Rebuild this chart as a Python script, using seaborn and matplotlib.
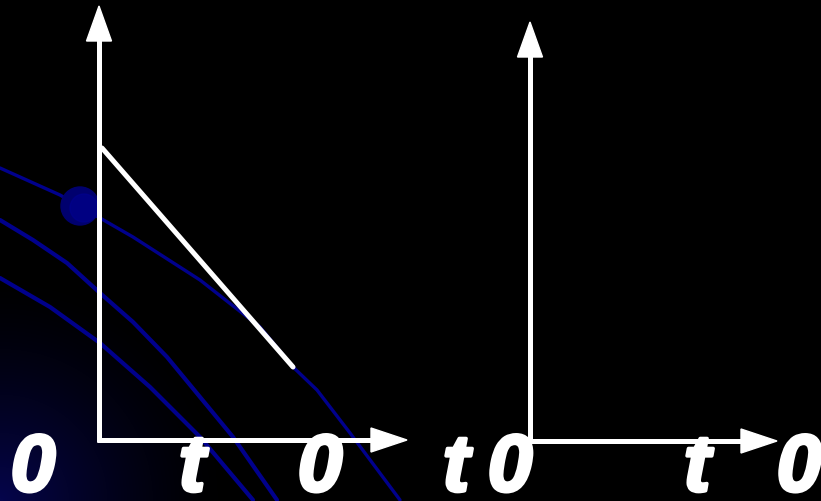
import numpy as np
import pandas as pd
import matplotlib
matplotlib.use('Agg')
import matplotlib.pyplot as plt
import matplotlib.patheffects as pe
import seaborn as sns
from matplotlib.patches import Polygon, Circle

# picture is in pixel units, y grows downwards
W, H = 821, 501

# blue background curves
curve_a_x = [0, 60, 100, 133, 200, 260, 293, 317, 350, 400]
curve_a_y = [168, 195, 218, 237, 280, 327, 367, 390, 433, 500]
curve_b_x = [0, 33, 67, 100, 133, 167, 200, 233, 277]
curve_b_y = [220, 240, 263, 293, 322, 357, 397, 437, 500]
curve_c_x = [0, 50, 100, 150, 200, 253]
curve_c_y = [278, 307, 343, 387, 437, 500]

# white falling line in the left diagram
line_x = [102, 293]
line_y = [148, 367]

# the two coordinate systems: origin, top of y axis, end of x axis
origins = [(99, 440), (530, 441)]
y_tips = [6, 22]
x_tips = [407, 777]

# labels under the axes
label_text = ['0', 't', '0', 't', '0', 't', '0']
label_x = [33, 192, 320, 456, 510, 697, 799]
label_y = 491

sns.set_style('dark', {'axes.facecolor': 'black', 'figure.facecolor': 'black'})

fig = plt.figure(figsize=(W / 100, H / 100), dpi=100)
ax = fig.add_axes([0, 0, 1, 1])
ax.set_xlim(0, W)
ax.set_ylim(H, 0)
ax.axis('off')

# dark blue glow in the lower left corner
gx, gy = np.meshgrid(np.arange(W), np.arange(H))
dist = np.hypot(gx, gy - H)
glow = np.clip(1 - dist / 230, 0, 1) ** 1.5
img = np.zeros((H, W, 3))
img[..., 2] = 0.30 * glow
img[..., 1] = 0.02 * glow
img[..., 0] = 0.02 * glow
ax.imshow(img, extent=(0, W, H, 0), zorder=0, interpolation='bilinear')

blue = '#00008c'
for cx, cy, lw in [(curve_a_x, curve_a_y, 2.4), (curve_b_x, curve_b_y, 3.0),
                   (curve_c_x, curve_c_y, 3.0)]:
    df = pd.DataFrame({'x': cx, 'y': cy})
    sns.lineplot(data=df, x='x', y='y', sort=False, color=blue, lw=lw,
                 ax=ax, zorder=1)

# small blue ball on the top curve
ax.add_patch(Circle((80, 206), 19, color='#00006e', zorder=2))
ax.add_patch(Circle((84, 208), 14, color='#000090', zorder=2, alpha=0.6))

ax.set_xlabel('')
ax.set_ylabel('')

# axes with arrows
for (ox, oy), yt, xt in zip(origins, y_tips, x_tips):
    ax.plot([ox, ox], [oy + 2, yt + 34], color='white', lw=3.6,
            solid_capstyle='butt', zorder=3)
    ax.plot([ox - 2, xt - 35], [oy, oy], color='white', lw=3.6,
            solid_capstyle='butt', zorder=3)
    ax.add_patch(Polygon([(ox, yt), (ox - 12.5, yt + 35), (ox + 12.5, yt + 35)],
                         color='white', zorder=3))
    ax.add_patch(Polygon([(xt, oy), (xt - 36, oy - 12), (xt - 36, oy + 12)],
                         color='white', zorder=3))

df_line = pd.DataFrame({'x': line_x, 'y': line_y})
sns.lineplot(data=df_line, x='x', y='y', color='white', lw=3.6, ax=ax,
             zorder=4)
ax.set_xlabel('')
ax.set_ylabel('')

for t, x in zip(label_text, label_x):
    ax.text(x, label_y, t, color='white', fontsize=58, fontweight='bold',
            fontstyle='italic', family='Liberation Sans', ha='center',
            va='baseline', zorder=5,
            path_effects=[pe.withStroke(linewidth=2.5, foreground='white')])

fig.savefig('out.png', dpi=100, facecolor='black')
